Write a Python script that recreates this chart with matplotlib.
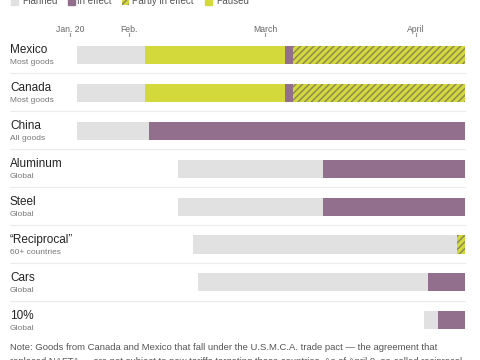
import pandas as pd
import matplotlib
matplotlib.use("Agg")
import matplotlib.pyplot as plt
import matplotlib.dates as mdates
from matplotlib.patches import Rectangle
from matplotlib.transforms import blended_transform_factory

plt.rcParams['font.family'] = ['Liberation Sans', 'DejaVu Sans']
plt.rcParams['hatch.linewidth'] = 1.1

labels = ["Mexico", "Canada", "China", "Aluminum", "Steel",
          "\u201cReciprocal\u201d", "Cars", "10%"]
sublabels = ["Most goods", "Most goods", "All goods", "Global", "Global",
             "60+ countries", "Global", "Global"]

# segment boundaries per row, and the status of each segment between them
bounds = [
    ["2025-01-21 11:00", "2025-02-04 08:00", "2025-03-05 00:00", "2025-03-06 20:00", "2025-04-11 00:00"],
    ["2025-01-21 11:00", "2025-02-04 08:00", "2025-03-05 00:00", "2025-03-06 20:00", "2025-04-11 00:00"],
    ["2025-01-21 11:00", "2025-02-05 05:00", "2025-04-11 00:00"],
    ["2025-02-11 05:00", "2025-03-12 22:00", "2025-04-11 00:00"],
    ["2025-02-11 05:00", "2025-03-12 22:00", "2025-04-11 00:00"],
    ["2025-02-14 05:00", "2025-04-09 10:00", "2025-04-11 00:00"],
    ["2025-02-15 05:00", "2025-04-03 12:00", "2025-04-11 00:00"],
    ["2025-04-02 14:00", "2025-04-05 14:00", "2025-04-11 00:00"],
]
statuses = [
    ["Planned", "Paused", "In effect", "Partly in effect"],
    ["Planned", "Paused", "In effect", "Partly in effect"],
    ["Planned", "In effect"],
    ["Planned", "In effect"],
    ["Planned", "In effect"],
    ["Planned", "Partly in effect"],
    ["Planned", "In effect"],
    ["Planned", "In effect"],
]

tick_dates = ["2025-01-20", "2025-02-01", "2025-03-01", "2025-04-01"]
tick_labels = ["Jan. 20", "Feb.", "March", "April"]

legend_names = ["Planned", "In effect", "Partly in effect", "Paused"]

GRAY = "#e1e1e1"
PURPLE = "#936f8e"
YELLOW = "#d3d93b"
HATCH = "#8e8b55"
styles = {
    "Planned": dict(color=GRAY),
    "In effect": dict(color=PURPLE),
    "Paused": dict(color=YELLOW),
    "Partly in effect": dict(facecolor=YELLOW, edgecolor=HATCH, hatch="/////", linewidth=0),
}

fig = plt.figure(figsize=(4.8, 3.6), dpi=100)
ax = fig.add_axes([0, 0, 1, 1])
ax.axis("off")

jan1 = mdates.date2num(pd.Timestamp("2025-01-01"))
ax.set_xlim(jan1 + 4.573, jan1 + 103.135)
ax.set_ylim(8.0475, -1.4512)

for i, (b, st) in enumerate(zip(bounds, statuses)):
    nums = mdates.date2num(pd.to_datetime(b, format="%Y-%m-%d %H:%M"))
    for left, right, s in zip(nums[:-1], nums[1:], st):
        ax.barh(i, right - left, left=left, height=0.475, **styles[s])

ltrans = blended_transform_factory(ax.transAxes, ax.transData)
for i, (lab, sub) in enumerate(zip(labels, sublabels)):
    ax.text(10 / 480, i - 0.045, lab, transform=ltrans, fontsize=8.5,
            color="#222222", va="baseline", ha="left")
    ax.text(10 / 480, i + 0.245, sub, transform=ltrans, fontsize=6,
            color="#777777", va="baseline", ha="left")
    if i < len(labels) - 1:
        ax.axhline(i + 0.48, xmin=10 / 480, xmax=465 / 480,
                   color="#ececec", lw=0.8)

for d, t in zip(tick_dates, tick_labels):
    x = mdates.date2num(pd.Timestamp(d))
    ax.plot([x, x], [-0.585, -0.50], color="#999999", lw=0.8)
    ax.text(x, -0.61, t, fontsize=6.2, color="#666666", ha="center", va="baseline")

# legend strip cut at the top of the picture
leg_x = [11, 68, 122, 205]
txt_x = [22, 77, 132, 216]
for name, sx, tx in zip(legend_names, leg_x, txt_x):
    r = Rectangle((sx / 480, 1 - 5 / 360), 7 / 480, 8 / 360,
                  transform=fig.transFigure, **styles[name])
    fig.patches.append(r)
    fig.text(tx / 480, 1 - 4 / 360, name, fontsize=7, color="#555555",
             va="baseline", ha="left")

fig.text(10 / 480, 1 - 350.5 / 360,
         "Note: Goods from Canada and Mexico that fall under the U.S.M.C.A. "
         "trade pact \u2014 the agreement that",
         fontsize=6.8, color="#555555", va="baseline", ha="left")
fig.text(10 / 480, 1 - 364.5 / 360,
         "replaced NAFTA \u2014 are not subject to new tariffs targeting those "
         "countries. As of April 9, so-called reciprocal",
         fontsize=6.8, color="#555555", va="baseline", ha="left")

fig.savefig("out.png", dpi=100)
